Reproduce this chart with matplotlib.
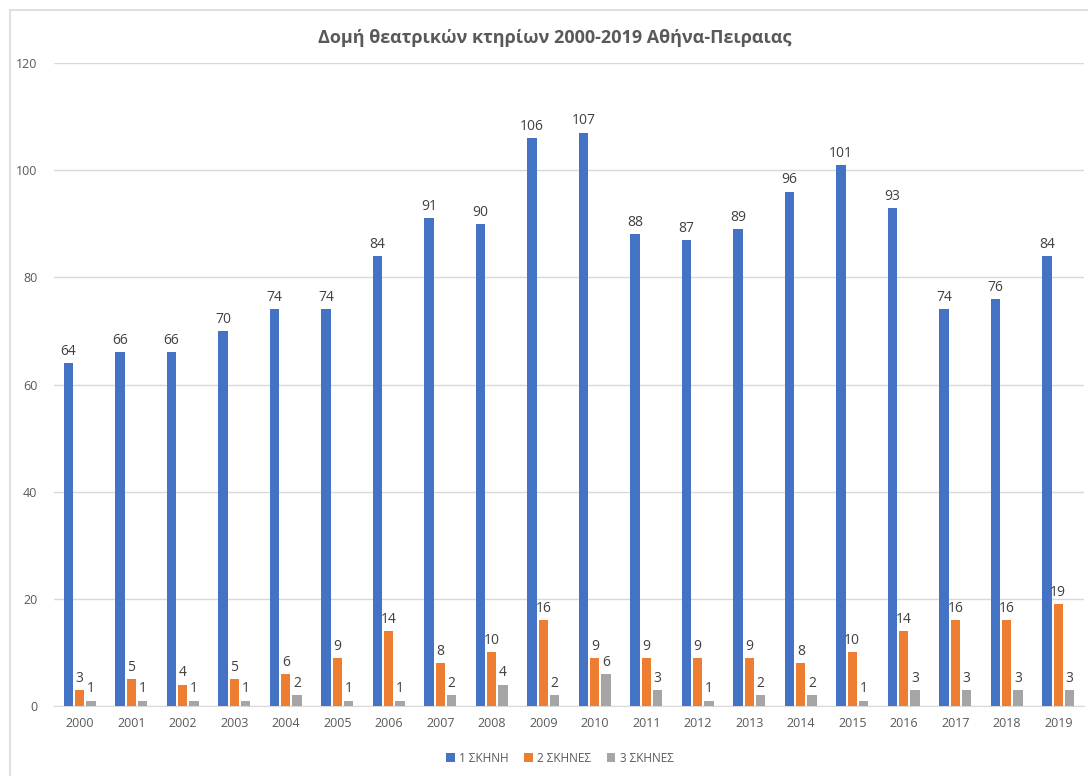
import numpy as np
import matplotlib
matplotlib.use("Agg")
import matplotlib.pyplot as plt
from matplotlib.patches import Rectangle

plt.rcParams['font.family'] = ['Open Sans', 'DejaVu Sans']

# Data
years = [str(y) for y in range(2000, 2020)]
one_stage = [64, 66, 66, 70, 74, 74, 84, 91, 90, 106, 107, 88, 87, 89, 96, 101, 93, 74, 76, 84]
two_stages = [3, 5, 4, 5, 6, 9, 14, 8, 10, 16, 9, 9, 9, 9, 8, 10, 14, 16, 16, 19]
three_stages = [1, 1, 1, 1, 2, 1, 1, 2, 4, 2, 6, 3, 1, 2, 2, 1, 3, 3, 3, 3]
series_names = ['1 ΣΚΗΝΗ', '2 ΣΚΗΝΕΣ', '3 ΣΚΗΝΕΣ']
colors = ['#4472C4', '#ED7D31', '#A5A5A5']

W, H = 1088, 776
fig = plt.figure(figsize=(W / 100, H / 100), dpi=100)

# chart area border (cropped on right / bottom)
fig.patches.append(Rectangle((10 / W, -0.1), 1.2, (H - 10) / H + 0.1, transform=fig.transFigure,
                             fill=False, edgecolor='#D9D9D9', linewidth=1.2))

ax = fig.add_axes([54 / W, (H - 706) / H, (1084 - 54) / W, (706 - 63) / H])

x = np.arange(len(years))
step = 0.22
width = 0.18
for i, (vals, name, c) in enumerate(zip([one_stage, two_stages, three_stages], series_names, colors)):
    bars = ax.bar(x + (i - 1) * step, vals, width, color=c, label=name, zorder=3)
    ax.bar_label(bars, padding=3, fontsize=10, color='#404040')

ax.set_xlim(-0.5, len(years) - 0.5)
ax.set_ylim(0, 120)
ax.set_yticks(range(0, 121, 20))
ax.set_xticks(x)
ax.set_xticklabels(years)
ax.tick_params(axis='both', length=0, labelsize=9, labelcolor='#595959')
ax.tick_params(axis='y', pad=12)
ax.tick_params(axis='x', pad=8)
ax.grid(axis='y', color='#D9D9D9', linewidth=1, zorder=0)
for s in ['top', 'right', 'left']:
    ax.spines[s].set_visible(False)
ax.spines['bottom'].set_color('#D9D9D9')

fig.text(555 / W, 1 - 38 / H, 'Δομή θεατρικών κτηρίων 2000-2019 Αθήνα-Πειραιας',
         ha='center', va='center', fontsize=13, fontweight='bold', color='#595959')

fig.legend(loc='center', bbox_to_anchor=(560 / W, 1 - 758 / H), ncol=3, frameon=False,
           fontsize=8.5, labelcolor='#595959', handlelength=0.7, handleheight=0.7,
           handletextpad=0.4, columnspacing=1.3)

fig.savefig('out.png', dpi=100)
